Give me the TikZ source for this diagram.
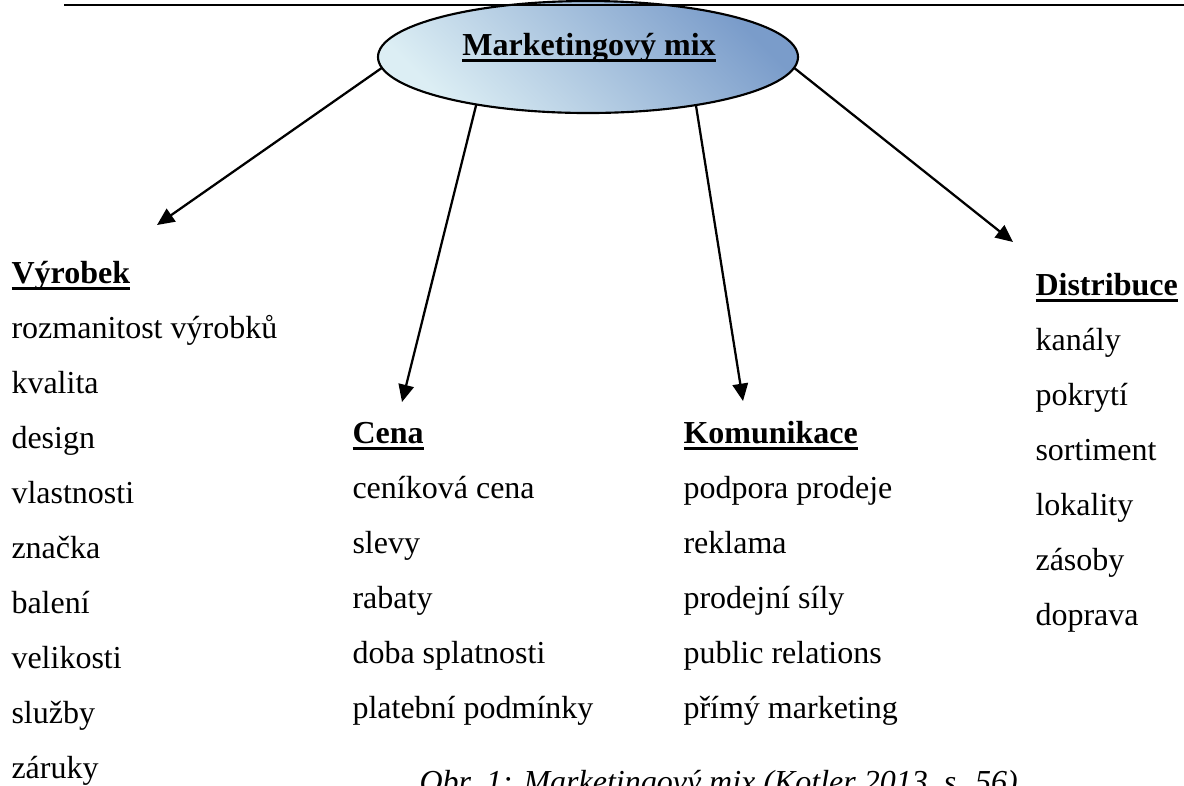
\documentclass[tikz,border=0pt]{standalone}
\usepackage{fontspec}
\setmainfont{Liberation Serif}
\usetikzlibrary{shapes.geometric,arrows.meta}
\definecolor{mixdark}{RGB}{122,156,202}
\definecolor{mixlight}{RGB}{220,238,244}
\newcommand{\uln}[1]{\setbox0\hbox{\bfseries #1}\rlap{\rule[-2.6pt]{\wd0}{1.2pt}}\box0}

\begin{document}
\begin{tikzpicture}[x=0.375pt,y=-0.375pt,
  txt/.style={anchor=base west,inner sep=0pt,font=\fontsize{12}{14}\selectfont},
  arr/.style={line width=0.85pt,-{Triangle[length=6.5pt,width=5.8pt]}}]
  \useasboundingbox (0,0) rectangle (1184,785);
  \node[ellipse,draw,line width=0.8pt,inner sep=0pt,outer sep=0pt,minimum width=157.5pt,minimum height=42pt,
    top color=mixdark,bottom color=mixlight,shading angle=-45] (mix) at (588,57) {};
  \draw[line width=0.75pt] (64,5) -- (1184,5);
  \node[txt,anchor=base] (mixlbl) at (589,55) {\uln{Marketingový mix}};

  \node[txt] (vyr) at (11,283) {\uln{Výrobek}};
  \foreach \t [count=\i] in {rozmanitost výrobků,kvalita,design,vlastnosti,značka,balení,velikosti,služby,záruky}
    \node[txt] (vyr\i) at (11,{283+55*\i}) {\t};
  \node[txt] (cena) at (352,443) {\uln{Cena}};
  \foreach \t [count=\i] in {ceníková cena,slevy,rabaty,doba splatnosti,platební podmínky}
    \node[txt] (cena\i) at (352,{443+55*\i}) {\t};
  \node[txt] (kom) at (683,443) {\uln{Komunikace}};
  \foreach \t [count=\i] in {podpora prodeje,reklama,prodejní síly,public relations,přímý marketing}
    \node[txt] (kom\i) at (683,{443+55*\i}) {\t};
  \node[txt] (dist) at (1035,295) {\uln{Distribuce}};
  \foreach \t [count=\i] in {kanály,pokrytí,sortiment,lokality,zásoby,doprava}
    \node[txt] (dist\i) at (1035,{295+55*\i}) {\t};

  \node[txt,font=\fontsize{12}{14}\selectfont\itshape] (obr) at (419,792) {Obr. 1: Marketingový mix (Kotler 2013, s. 56)};

  \coordinate (tvyr) at (157,225);
  \coordinate (tcena) at (402,402);
  \coordinate (tkom) at (743,401);
  \coordinate (tdist) at (1013,242);
  \draw[arr] (mix.183) -- (tvyr);
  \draw[arr] (mix.203) -- (tcena);
  \draw[arr] (mix.336) -- (tkom);
  \draw[arr] (mix.357) -- (tdist);
\end{tikzpicture}
\end{document}
